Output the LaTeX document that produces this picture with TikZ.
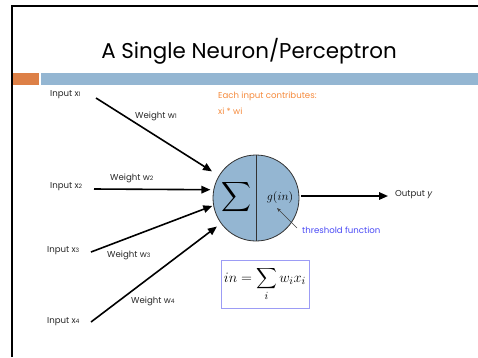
\documentclass[tikz,border=0pt]{standalone}
\usepackage{amsmath}
\usepackage[no-math]{fontspec}
\setmainfont{Poppins}
\usetikzlibrary{arrows.meta}
\definecolor{barorange}{HTML}{DD8047}
\definecolor{barblue}{HTML}{94B6D2}
\definecolor{txtorange}{HTML}{F58A3C}
\definecolor{txtblue}{HTML}{4A4AF5}
\definecolor{boxblue}{HTML}{9C9CF5}
\definecolor{neuronfill}{HTML}{94B6D2}
\tikzset{
  lbl/.style={font=\fontsize{8.6}{9}\selectfont, inner sep=0pt, text=black!85},
  inarrow/.style={line width=1.6pt, -{Triangle[length=9pt,width=7.5pt]}},
}
\newcommand{\sml}[1]{{\fontsize{6}{6}\selectfont #1}}
\begin{document}
\begin{tikzpicture}[x=1pt,y=-1pt]
\useasboundingbox (0,0) rectangle (478,357);
% frame
\draw[line width=2pt] (12,357) -- (12,6) -- (478,6);
% title
\node (title) at (249,51) {\fontsize{21.4}{24}\selectfont A Single Neuron/Perceptron};
% bars
\fill[barorange] (13,73) rectangle (39,85);
\fill[barblue] (41,73) rectangle (478,85);
% neuron
\node[circle, draw=black!80, fill=neuronfill, line width=0.8pt, minimum size=86pt, inner sep=0pt] (neuron) at (256,198) {};
\draw[line width=0.8pt, black!80] (neuron.north) -- (neuron.south);
\node (sigma) at (236,197) {\fontsize{22}{22}\selectfont$\displaystyle\sum$};
\node (g) at (280,197) {\fontsize{12}{13}\selectfont$g(in)$};
% inputs
\node[lbl, anchor=west] (in1) at (50,95) {Input x\sml{1}};
\node[lbl, anchor=west] (in2) at (50,187) {Input x\sml{2}};
\node[lbl, anchor=west] (in3) at (47,251) {Input x\sml{3}};
\node[lbl, anchor=west] (in4) at (47,322) {Input x\sml{4}};
\node[lbl, anchor=west] (w1) at (135,116) {Weight w\sml{1}};
\node[lbl, anchor=west] (w2) at (110,178) {Weight w\sml{2}};
\node[lbl, anchor=west] (w3) at (107,255) {Weight w\sml{3}};
\node[lbl, anchor=west] (w4) at (131,301) {Weight w\sml{4}};
\coordinate (s1) at (96,98);
\coordinate (s2) at (94,189);
\coordinate (s3) at (91,252);
\coordinate (s4) at (91,322);
\draw[inarrow, shorten >=8pt] (s1) -- (neuron.149);
\draw[inarrow, shorten >=3pt] (s2) -- (neuron.169);
\draw[inarrow, shorten >=1pt] (s3) -- (neuron.190);
\draw[inarrow, shorten >=5pt] (s4) -- (neuron.216);
% output
\node[lbl, anchor=west] (out) at (395,195) {Output \textit{y}};
\coordinate (os) at (301,196);
\coordinate (oe) at (388,196);
\draw[inarrow] (os) -- (oe);
% orange text
\node[lbl, anchor=west, text=txtorange] (each) at (218,96) {Each input contributes:};
\node[lbl, anchor=west, text=txtorange] (xw) at (218,111) {xi * wi};
% threshold
\node[lbl, anchor=west, text=txtblue] (thr) at (302,230) {threshold function};
\draw[black!75, line width=0.5pt, -{Stealth[length=4pt,width=3pt]}] (thr.west) ++(-5,-2) -- (277,208);
% formula
\node[draw=boxblue, line width=1pt, minimum width=88pt, minimum height=48pt, inner sep=0pt] (formula) at (265,284)
  {\fontsize{15}{16}\selectfont$in = \displaystyle\sum_{i} w_i x_i$};
\end{tikzpicture}
\end{document}
